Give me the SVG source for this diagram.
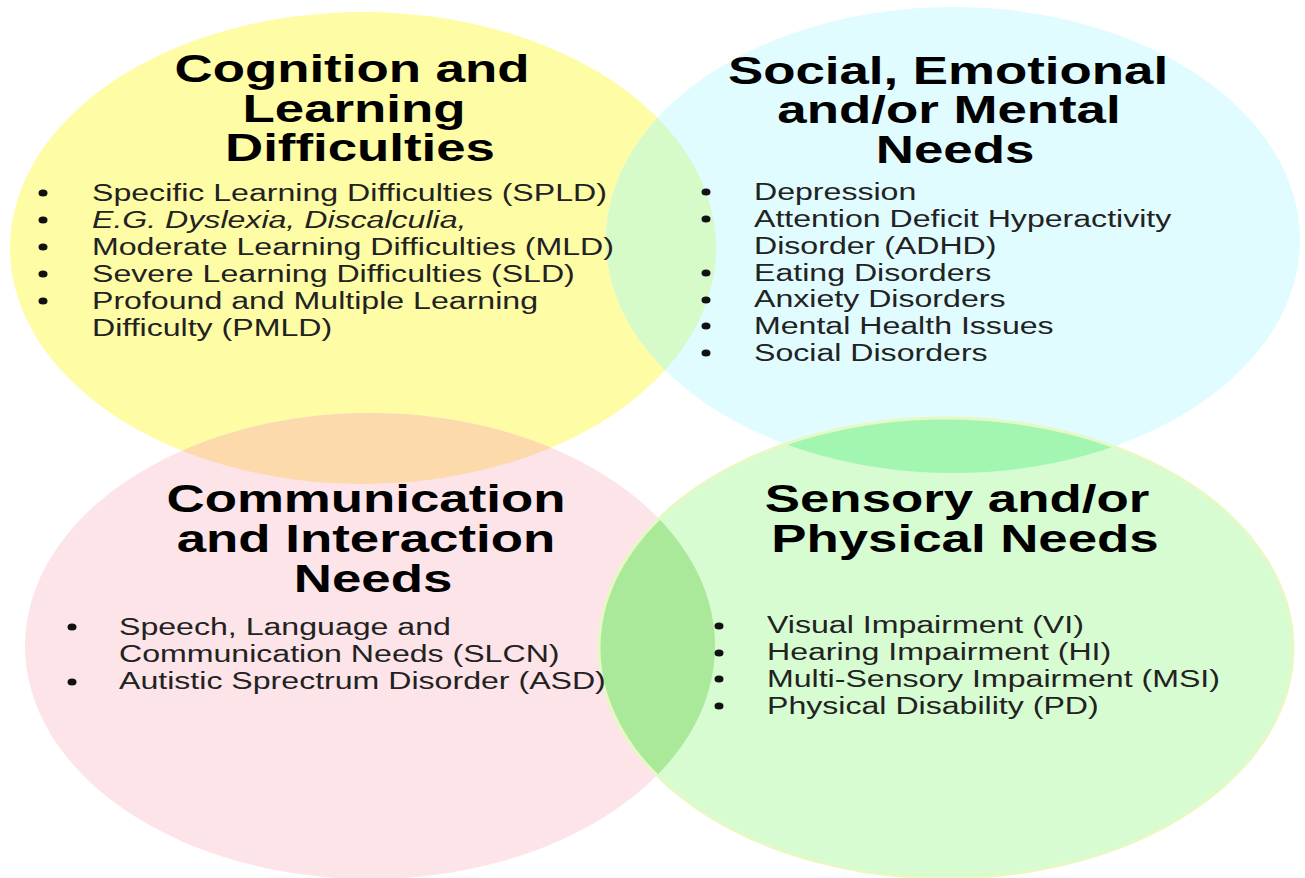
<svg xmlns="http://www.w3.org/2000/svg" xmlns:xlink="http://www.w3.org/1999/xlink" width="1305" height="878" viewBox="0 0 1305 878">
<style>
.t{font-family:"Liberation Sans",Arial,sans-serif;font-weight:bold;font-size:38px;fill:#000;text-anchor:middle}
.b{font-family:"Liberation Sans",Arial,sans-serif;font-size:23.1px;fill:#222}
.i{font-style:italic}
.dot{fill:#111}
</style>
<defs>
<ellipse id="eY" cx="363" cy="248" rx="353" ry="236"/>
<ellipse id="eC" cx="953" cy="240" rx="347" ry="233"/>
<ellipse id="eP" cx="370" cy="646" rx="345" ry="233"/>
<ellipse id="eG" cx="946" cy="648" rx="347" ry="230"/>
<clipPath id="cY"><use xlink:href="#eY"/></clipPath>
<clipPath id="cC"><use xlink:href="#eC"/></clipPath>
<clipPath id="cP"><use xlink:href="#eP"/></clipPath>
</defs>
<rect width="1305" height="878" fill="#fff"/>
<g id="circles">
<use xlink:href="#eY" fill="#FEFCA4"/>
<use xlink:href="#eC" fill="#E0FCFF"/>
<use xlink:href="#eP" fill="#FDE4E8"/>
<use xlink:href="#eG" fill="#D7FCD2"/>
</g>
<g id="overlaps">
<use xlink:href="#eC" fill="#D6FAC8" clip-path="url(#cY)"/>
<use xlink:href="#eP" fill="#FCDAAC" clip-path="url(#cY)"/>
<use xlink:href="#eG" fill="#A2F6B2" clip-path="url(#cC)"/>
<use xlink:href="#eG" fill="#AAE89A" clip-path="url(#cP)"/>
<use xlink:href="#eG" fill="none" stroke="#E6F8C4" stroke-width="3"/>
</g>
<g id="node-cognition">
<text class="t" transform="translate(352,82) scale(1.39,1)">Cognition and</text>
<text class="t" transform="translate(354,122) scale(1.39,1)">Learning</text>
<text class="t" transform="translate(360,161) scale(1.39,1)">Difficulties</text>
<ellipse class="dot" cx="43" cy="193" rx="4.5" ry="3.6"/>
<ellipse class="dot" cx="43" cy="220" rx="4.5" ry="3.6"/>
<ellipse class="dot" cx="43" cy="247" rx="4.5" ry="3.6"/>
<ellipse class="dot" cx="43" cy="274" rx="4.5" ry="3.6"/>
<ellipse class="dot" cx="43" cy="301" rx="4.5" ry="3.6"/>
<text class="b" transform="translate(92,201) scale(1.39,1)">Specific Learning Difficulties (SPLD)</text>
<text class="b i" transform="translate(92,228) scale(1.39,1)">E.G. Dyslexia, Discalculia,</text>
<text class="b" transform="translate(92,255) scale(1.39,1)">Moderate Learning Difficulties (MLD)</text>
<text class="b" transform="translate(92,282) scale(1.39,1)">Severe Learning Difficulties (SLD)</text>
<text class="b" transform="translate(92,309) scale(1.39,1)">Profound and Multiple Learning</text>
<text class="b" transform="translate(92,336) scale(1.39,1)">Difficulty (PMLD)</text>
</g>
<g id="node-social">
<text class="t" transform="translate(948,84) scale(1.39,1)">Social, Emotional</text>
<text class="t" transform="translate(949,123) scale(1.39,1)">and/or Mental</text>
<text class="t" transform="translate(955,163) scale(1.39,1)">Needs</text>
<ellipse class="dot" cx="706" cy="192" rx="4.5" ry="3.6"/>
<ellipse class="dot" cx="706" cy="219" rx="4.5" ry="3.6"/>
<ellipse class="dot" cx="706" cy="273" rx="4.5" ry="3.6"/>
<ellipse class="dot" cx="706" cy="300" rx="4.5" ry="3.6"/>
<ellipse class="dot" cx="706" cy="326" rx="4.5" ry="3.6"/>
<ellipse class="dot" cx="706" cy="353" rx="4.5" ry="3.6"/>
<text class="b" transform="translate(754,200) scale(1.39,1)">Depression</text>
<text class="b" transform="translate(754,227) scale(1.39,1)">Attention Deficit Hyperactivity</text>
<text class="b" transform="translate(754,254) scale(1.39,1)">Disorder (ADHD)</text>
<text class="b" transform="translate(754,281) scale(1.39,1)">Eating Disorders</text>
<text class="b" transform="translate(754,307) scale(1.39,1)">Anxiety Disorders</text>
<text class="b" transform="translate(754,334) scale(1.39,1)">Mental Health Issues</text>
<text class="b" transform="translate(754,361) scale(1.39,1)">Social Disorders</text>
</g>
<g id="node-communication">
<text class="t" transform="translate(366,512) scale(1.39,1)">Communication</text>
<text class="t" transform="translate(366,552) scale(1.39,1)">and Interaction</text>
<text class="t" transform="translate(373,592) scale(1.39,1)">Needs</text>
<ellipse class="dot" cx="72" cy="627" rx="4.5" ry="3.6"/>
<ellipse class="dot" cx="72" cy="682" rx="4.5" ry="3.6"/>
<text class="b" transform="translate(119,635) scale(1.39,1)">Speech, Language and</text>
<text class="b" transform="translate(119,662) scale(1.39,1)">Communication Needs (SLCN)</text>
<text class="b" transform="translate(119,689) scale(1.39,1)">Autistic Sprectrum Disorder (ASD)</text>
</g>
<g id="node-sensory">
<text class="t" transform="translate(957,512) scale(1.39,1)">Sensory and/or</text>
<text class="t" transform="translate(965,552) scale(1.39,1)">Physical Needs</text>
<ellipse class="dot" cx="719" cy="626" rx="4.5" ry="3.6"/>
<ellipse class="dot" cx="719" cy="653" rx="4.5" ry="3.6"/>
<ellipse class="dot" cx="719" cy="679" rx="4.5" ry="3.6"/>
<ellipse class="dot" cx="719" cy="706" rx="4.5" ry="3.6"/>
<text class="b" transform="translate(767,633) scale(1.39,1)">Visual Impairment (VI)</text>
<text class="b" transform="translate(767,660) scale(1.39,1)">Hearing Impairment (HI)</text>
<text class="b" transform="translate(767,687) scale(1.39,1)">Multi-Sensory Impairment (MSI)</text>
<text class="b" transform="translate(767,714) scale(1.39,1)">Physical Disability (PD)</text>
</g>
</svg>
